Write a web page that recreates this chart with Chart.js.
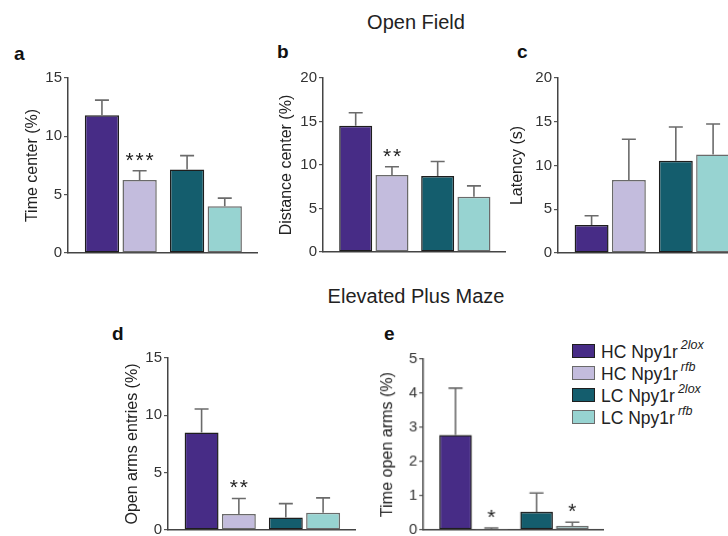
<!DOCTYPE html>
<html>
<head>
<meta charset="utf-8">
<script src="https://cdn.jsdelivr.net/npm/chart.js@4"></script>
<style>
  html, body { margin: 0; padding: 0; background: #fff; overflow: hidden; }
  body { width: 728px; height: 536px; position: relative; font-family: "Liberation Sans", Arial, sans-serif; color: #222; }
  canvas { position: absolute; }
  .txt { position: absolute; line-height: 1; white-space: nowrap; }
  .head { font-size: 20px; color: #222; transform: translateX(-50%); }
  .letter { font-size: 19px; font-weight: bold; color: #111; }
  .legend { position: absolute; left: 572px; top: 340px; }
  .legend .row { display: flex; align-items: center; height: 22px; font-size: 17.5px; color: #222; }
  .legend .sw { width: 21px; height: 12px; border: 1.5px solid #222; margin-right: 6px; }
  .legend sup { font-size: 12.5px; font-style: italic; margin-left: 3px; position: relative; top: -2px; }
</style>
</head>
<body>
<div class="txt head" style="left:416px; top:12px;">Open Field</div>
<div class="txt head" style="left:416px; top:286px;">Elevated Plus Maze</div>
<div class="txt letter" style="left:14px; top:44px;">a</div>
<div class="txt letter" style="left:277px; top:42px;">b</div>
<div class="txt letter" style="left:517px; top:42px;">c</div>
<div class="txt letter" style="left:112px; top:324px;">d</div>
<div class="txt letter" style="left:384px; top:324px;">e</div>
<div class="legend" id="legend"></div>

<canvas id="chartA"></canvas>
<canvas id="chartB"></canvas>
<canvas id="chartC"></canvas>
<canvas id="chartD"></canvas>
<canvas id="chartE"></canvas>

<script>
// groups, in bar order: HC 2lox, HC rfb, LC 2lox, LC rfb
const groupNames = ['HC Npy1r', 'HC Npy1r', 'LC Npy1r', 'LC Npy1r'];
const groupSups = ['2lox', 'rfb', '2lox', 'rfb'];
const groupColors = ['#472c86', '#c3bcdd', '#145d6d', '#97d3d1'];
const groupBorders = ['#1e1e1e', '#6a6a6a', '#1e1e1e', '#6a6a6a'];

// Open field
const timeCenter = [11.8, 6.25, 7.15, 4.0];
const timeCenterSem = [1.3, 0.8, 1.2, 0.7];
const timeCenterStars = ['', '***', '', ''];

const distanceCenter = [14.5, 8.85, 8.75, 6.35];
const distanceCenterSem = [1.5, 0.95, 1.65, 1.25];
const distanceCenterStars = ['', '**', '', ''];

const latency = [3.2, 8.35, 10.55, 11.25];
const latencySem = [1.05, 4.65, 3.85, 3.5];
const latencyStars = ['', '', '', ''];

// Elevated plus maze
const openArmsEntries = [8.5, 1.4, 1.1, 1.5];
const openArmsEntriesSem = [2.05, 1.35, 1.2, 1.3];
const openArmsEntriesStars = ['', '**', '', ''];

const timeOpenArms = [2.78, 0.03, 0.53, 0.12];
const timeOpenArmsSem = [1.37, 0.03, 0.55, 0.11];
const timeOpenArmsStars = ['', '*', '', '*'];

// y axis ticks
const ticksA = [0, 5, 10, 15];
const ticksB = [0, 5, 10, 15, 20];
const ticksC = [0, 5, 10, 15, 20];
const ticksD = [0, 5, 10, 15];
const ticksE = [0, 1, 2, 3, 4, 5];

const FONT = '"Liberation Sans", Arial, sans-serif';
const AXIS_W = 60;
const PAD_T = 12, PAD_B = 12, PAD_R = 4;

// error bars + significance stars
const errorBars = {
    id: 'errorBars',
    afterDatasetsDraw(chart) {
        const ctx = chart.ctx;
        const yScale = chart.scales.y;
        chart.data.datasets.forEach((ds, di) => {
            const meta = chart.getDatasetMeta(di);
            meta.data.forEach((bar, i) => {
                const v = ds.data[i].y;
                const yTop = yScale.getPixelForValue(v + ds.sem[i]);
                ctx.save();
                ctx.strokeStyle = '#6b6b6b';
                ctx.lineWidth = 1.6;
                ctx.beginPath();
                ctx.moveTo(bar.x, bar.y);
                ctx.lineTo(bar.x, yTop);
                ctx.moveTo(bar.x - 7, yTop);
                ctx.lineTo(bar.x + 7, yTop);
                ctx.stroke();
                const s = ds.stars[i];
                if (s) {
                    // stars spaced a bit wider than the font does it
                    ctx.fillStyle = '#222';
                    ctx.font = '21px ' + FONT;
                    ctx.textAlign = 'center';
                    ctx.textBaseline = 'alphabetic';
                    const step = 10;
                    const x0 = bar.x - (s.length - 1) * step / 2;
                    for (let k = 0; k < s.length; k++) {
                        ctx.fillText(s[k], x0 + k * step, yTop - 4);
                    }
                }
                ctx.restore();
            });
        });
    }
};

function makePanel(id, area, values, sem, stars, ticks, title, titlePad) {
    const canvas = document.getElementById(id);
    const w = AXIS_W + (area.right - area.left) + PAD_R;
    const h = PAD_T + (area.bottom - area.top) + PAD_B;
    canvas.style.left = (area.left - AXIS_W) + 'px';
    canvas.style.top = (area.top - PAD_T) + 'px';
    canvas.width = w;
    canvas.height = h;
    canvas.style.width = w + 'px';
    canvas.style.height = h + 'px';

    // two groups (HC, LC), each with 2lox and rfb bars
    const datasets = [0, 1].map(k => ({
        label: groupSups[k],
        data: [{ x: 0, y: values[k] }, { x: 1, y: values[k + 2] }],
        sem: [sem[k], sem[k + 2]],
        stars: [stars[k], stars[k + 2]],
        backgroundColor: [groupColors[k], groupColors[k + 2]],
        borderColor: [groupBorders[k], groupBorders[k + 2]],
        borderWidth: 1.5,
        borderSkipped: false,
        categoryPercentage: 0.885,
        barPercentage: 0.91
    }));

    return new Chart(canvas, {
        type: 'bar',
        data: { datasets },
        plugins: [errorBars],
        options: {
            responsive: false,
            animation: false,
            devicePixelRatio: 1,
            layout: { padding: { top: PAD_T, bottom: PAD_B, right: PAD_R, left: 0 } },
            plugins: { legend: { display: false }, tooltip: { enabled: false } },
            scales: {
                x: {
                    type: 'linear',
                    offset: false,
                    min: -0.62,
                    max: 1.6,
                    grid: { display: false, drawTicks: false, offset: false },
                    border: { display: true, color: '#444', width: 1.5 },
                    ticks: { display: false, stepSize: 1, includeBounds: false },
                    afterFit: s => { s.height = 0; }
                },
                y: {
                    min: ticks[0],
                    max: ticks[ticks.length - 1],
                    afterBuildTicks: s => { s.ticks = ticks.map(v => ({ value: v })); },
                    grid: { display: true, drawOnChartArea: false, drawTicks: true, tickLength: 4, color: '#555', lineWidth: 1.2 },
                    border: { display: true, color: '#444', width: 1.5 },
                    ticks: { color: '#333', padding: 2, font: { family: FONT, size: 15 } },
                    title: { display: true, text: title, color: '#222', font: { family: FONT, size: 16 }, padding: { top: titlePad, bottom: 0 } },
                    afterFit: s => { s.width = AXIS_W; }
                }
            }
        }
    });
}

makePanel('chartA', { left: 68, top: 77.7, right: 257, bottom: 253 }, timeCenter, timeCenterSem, timeCenterStars, ticksA, 'Time center (%)', 15);
makePanel('chartB', { left: 322.7, top: 77.7, right: 505, bottom: 252.3 }, distanceCenter, distanceCenterSem, distanceCenterStars, ticksB, 'Distance center (%)', 14);
makePanel('chartC', { left: 558, top: 77.7, right: 745, bottom: 253.3 }, latency, latencySem, latencyStars, ticksC, 'Latency (s)', 10);
makePanel('chartD', { left: 168, top: 357.7, right: 355, bottom: 530 }, openArmsEntries, openArmsEntriesSem, openArmsEntriesStars, ticksD, 'Open arms entries (%)', 15);
makePanel('chartE', { left: 423.3, top: 359.3, right: 603, bottom: 530 }, timeOpenArms, timeOpenArmsSem, timeOpenArmsStars, ticksE, 'Time open arms (%)', 15);

// legend
const legend = document.getElementById('legend');
groupNames.forEach((name, i) => {
    const row = document.createElement('div');
    row.className = 'row';
    const sw = document.createElement('div');
    sw.className = 'sw';
    sw.style.background = groupColors[i];
    sw.style.borderColor = groupBorders[i];
    const label = document.createElement('span');
    label.innerHTML = name + '<sup>' + groupSups[i] + '</sup>';
    row.appendChild(sw);
    row.appendChild(label);
    legend.appendChild(row);
});
</script>
</body>
</html>
